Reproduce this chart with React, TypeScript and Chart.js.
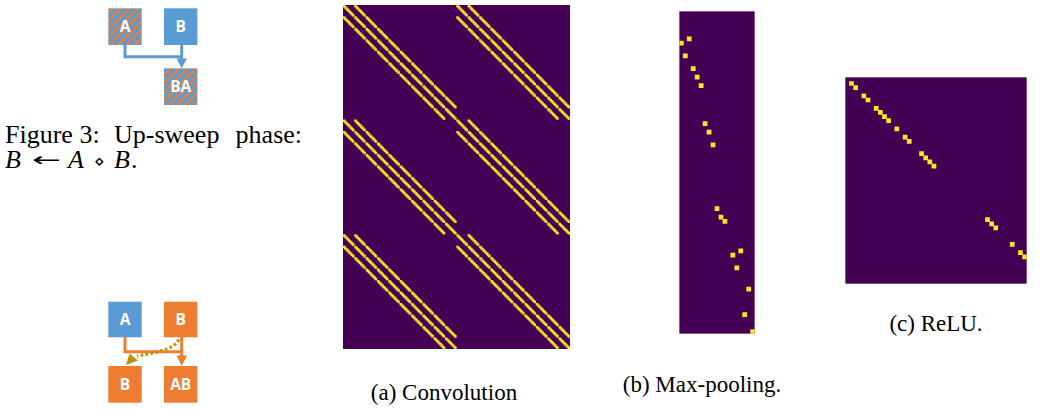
import React, { useEffect, useRef } from 'react';
import { Chart, registerables } from 'chart.js';

Chart.register(...registerables);

const PURPLE = '#440154';
const YELLOW = '#fde725';
const BLUE = '#5b9bd5';
const ORANGE = '#ed7d31';
const GOLD = '#bf9000';

// (a) Convolution Jacobian: 3x3 kernel, 10x10 image, 2 input / 3 output channels
const convImageSide = 10;
const convKernelOffsets = [-1, 0, 1];
const convInChannels = 2;
const convOutChannels = 3;

// (b) Max-pooling Jacobian: nonzero cells (column, row)
const poolWidth = 19;
const poolHeight = 76;
const poolCols = [2, 0, 1, 3, 4, 5, 6, 7, 8, 9, 10, 11, 15, 13, 14, 17, 16, 18];
const poolRows = [6, 7, 10, 13, 15, 17, 26, 28, 31, 46, 48, 49, 56, 57, 60, 65, 71, 75];

// (c) ReLU Jacobian: nonzero diagonal entries
const reluWidth = 44;
const reluHeight = 50;
const reluIndices = [1, 2, 4, 5, 7, 8, 9, 10, 12, 14, 15, 18, 19, 20, 21, 34, 35, 36, 40, 42, 43];

type Pt = { x: number; y: number };

function convCells(): Pt[] {
  const n = convImageSide * convImageSide;
  const pts: Pt[] = [];
  for (let o = 0; o < convOutChannels; o++) {
    for (let c = 0; c < convInChannels; c++) {
      for (let y = 0; y < convImageSide; y++) {
        for (let x = 0; x < convImageSide; x++) {
          for (const dy of convKernelOffsets) {
            for (const dx of convKernelOffsets) {
              const yy = y + dy;
              const xx = x + dx;
              if (yy < 0 || yy >= convImageSide || xx < 0 || xx >= convImageSide) continue;
              pts.push({ x: c * n + yy * convImageSide + xx, y: o * n + y * convImageSide + x });
            }
          }
        }
      }
    }
  }
  return pts;
}

const poolCells: Pt[] = poolCols.map((c, i) => ({ x: c, y: poolRows[i] }));
const reluCells: Pt[] = reluIndices.map((i) => ({ x: i, y: i }));

function HeatPanel(props: {
  points: Pt[];
  cols: number;
  rows: number;
  left: number;
  top: number;
  width: number;
  height: number;
  grow: number;
}) {
  const ref = useRef<HTMLCanvasElement | null>(null);
  const { points, cols, rows, left, top, width, height, grow } = props;
  useEffect(() => {
    if (!ref.current) return;
    const cell = width / cols;
    const r = (cell * grow) / Math.SQRT2;
    const chart = new Chart(ref.current, {
      type: 'scatter',
      data: {
        datasets: [
          {
            data: points,
            pointStyle: 'rect',
            pointRadius: r,
            pointHoverRadius: r,
            backgroundColor: YELLOW,
            borderWidth: 0,
          } as any,
        ],
      },
      options: {
        animation: false,
        responsive: false,
        maintainAspectRatio: false,
        events: [],
        layout: { padding: 0 },
        plugins: { legend: { display: false }, tooltip: { enabled: false } },
        scales: {
          x: { type: 'linear', min: -0.5, max: cols - 0.5, display: false },
          y: { type: 'linear', min: -0.5, max: rows - 0.5, reverse: true, display: false },
        },
      },
      plugins: [
        {
          id: 'bg',
          beforeDraw(c: any) {
            const { ctx, chartArea: a } = c;
            ctx.save();
            ctx.fillStyle = PURPLE;
            ctx.fillRect(a.left, a.top, a.right - a.left, a.bottom - a.top);
            ctx.restore();
          },
        },
      ],
    });
    return () => chart.destroy();
  }, [points, cols, rows, width, height, grow]);
  return (
    <div style={{ position: 'absolute', left, top, width, height }}>
      <canvas ref={ref} width={width} height={height} style={{ display: 'block' }} />
    </div>
  );
}

const serif = "'Liberation Serif', 'Times New Roman', serif";
const sans = "'Open Sans', 'Liberation Sans', sans-serif";

function Box(props: { x: number; y: number; w: number; h: number; fill: string; label: string }) {
  const { x, y, w, h, fill, label } = props;
  return (
    <g>
      <rect x={x} y={y} width={w} height={h} fill={fill} />
      <text
        x={x + w / 2}
        y={y + h / 2 + 5.5}
        textAnchor="middle"
        fill="#fff"
        fontFamily={sans}
        fontWeight="bold"
        fontSize={15.5}
      >
        {label}
      </text>
    </g>
  );
}

function Diagrams() {
  return (
    <svg width={1047} height={409} style={{ position: 'absolute', left: 0, top: 0 }}>
      <defs>
        <pattern id="stripes" patternUnits="userSpaceOnUse" width={6} height={6} patternTransform="rotate(45)">
          <rect width={6} height={6} fill={BLUE} />
          <rect width={2.4} height={6} fill={ORANGE} />
        </pattern>
      </defs>
      {/* Up-sweep diagram */}
      <polyline points="125,45 125,56.7 181.7,56.7" fill="none" stroke={BLUE} strokeWidth={3} />
      <line x1={181.7} y1={45} x2={181.7} y2={60} stroke={BLUE} strokeWidth={3} />
      <polygon points="176.5,58.5 187,58.5 181.7,68.3" fill={BLUE} />
      <Box x={108.3} y={8.3} w={33.4} h={36.7} fill="url(#stripes)" label="A" />
      <Box x={164} y={8.3} w={33.4} h={36.7} fill={BLUE} label="B" />
      <Box x={164} y={68.3} w={33.4} h={36.7} fill="url(#stripes)" label="BA" />

      <text fontFamily={serif} fontSize={26} fill="#000">
        <tspan x={5} y={143}>Figure</tspan>
        <tspan x={79.5} y={143}>3:</tspan>
        <tspan x={114} y={143}>Up-sweep</tspan>
        <tspan x={235.6} y={143}>phase:</tspan>
      </text>
      <text fontFamily={serif} fontSize={26} fill="#000">
        <tspan x={5} y={168} fontStyle="italic">B</tspan>
        <tspan
          x={32}
          y={166}
          fontFamily="'DejaVu Sans', sans-serif"
          fontSize={19}
          textLength={29}
          lengthAdjust="spacingAndGlyphs"
        >
          ←
        </tspan>
        <tspan x={68} y={168} fontStyle="italic">A</tspan>
        <tspan x={94} y={167} fontFamily="'DejaVu Sans', sans-serif" fontSize={17}>
          ⋄
        </tspan>
        <tspan x={114} y={168} fontStyle="italic">B</tspan>
        <tspan x={131} y={168}>.</tspan>
      </text>

      {/* Down-sweep diagram */}
      <polyline points="125,337 125,351.7 181.7,351.7" fill="none" stroke={ORANGE} strokeWidth={3} />
      <line x1={181.7} y1={337} x2={181.7} y2={357} stroke={ORANGE} strokeWidth={3} />
      <polygon points="176.5,355.5 187,355.5 181.7,366" fill={ORANGE} />
      <path
        d="M 178.5 339.5 Q 176 350 137 356"
        fill="none"
        stroke={GOLD}
        strokeWidth={3.2}
        strokeDasharray="2.6 2.4"
      />
      <polygon points="126,365 129.5,353.5 138,360.5" fill={GOLD} />
      <Box x={108.3} y={301.7} w={33.4} h={35.6} fill={BLUE} label="A" />
      <Box x={164} y={301.7} w={33.4} h={35.6} fill={ORANGE} label="B" />
      <Box x={108.3} y={366} w={33.4} h={36.7} fill={ORANGE} label="B" />
      <Box x={164} y={366} w={33.4} h={36.7} fill={ORANGE} label="AB" />

      {/* Captions */}
      <text x={444} y={400} textAnchor="middle" fontFamily={serif} fontSize={23} fill="#000">
        (a) Convolution
      </text>
      <text x={702} y={392} textAnchor="middle" fontFamily={serif} fontSize={23} fill="#000">
        (b) Max-pooling.
      </text>
      <text x={936} y={331} textAnchor="middle" fontFamily={serif} fontSize={23} fill="#000">
        (c) ReLU.
      </text>
    </svg>
  );
}

export default function App() {
  const conv = React.useMemo(() => convCells(), []);
  return (
    <div
      style={{
        position: 'absolute',
        left: 0,
        top: 0,
        width: 1047,
        height: 409,
        background: '#fff',
        overflow: 'hidden',
      }}
    >
      <Diagrams />
      <HeatPanel
        points={conv}
        cols={convInChannels * convImageSide * convImageSide}
        rows={convOutChannels * convImageSide * convImageSide}
        left={342}
        top={4}
        width={229}
        height={346}
        grow={1.25}
      />
      <HeatPanel points={poolCells} cols={poolWidth} rows={poolHeight} left={676} top={8} width={82} height={329} grow={1.1} />
      <HeatPanel points={reluCells} cols={reluWidth} rows={reluHeight} left={842} top={74} width={188} height={213} grow={1.1} />
    </div>
  );
}
